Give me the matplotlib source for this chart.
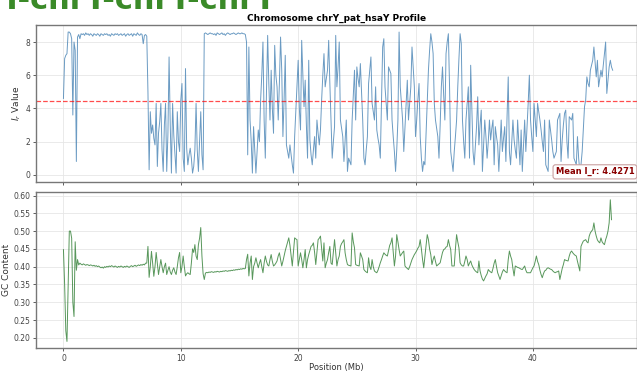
import numpy as np
import matplotlib.pyplot as plt

# valores I_r cada 0.1 Mb (leidos a ojo de la figura)
ir_values = [
    4.6, 7.0, 7.2, 7.3, 8.6, 8.6, 8.5, 8.2, 3.6, 8.0, 7.5, 0.8, 8.3,
    8.45, 8.2, 8.5, 8.45, 8.5, 8.4, 8.55, 8.45, 8.5, 8.4, 8.5, 8.45, 8.35, 8.5, 8.45, 8.4, 8.5, 8.45,
    8.35, 8.5, 8.45, 8.4, 8.5, 8.45, 8.5, 8.4, 8.45, 8.35, 8.5, 8.45, 8.4, 8.5, 8.45, 8.5, 8.4, 8.45,
    8.5, 8.4, 8.45, 8.5, 8.35, 8.45, 8.5, 8.4, 8.45, 8.5, 8.35, 8.5, 8.45, 8.4, 8.55, 8.45, 8.4, 8.5,
    8.45, 7.9, 8.4, 8.45, 8.35, 5.0, 0.3,
    3.8, 2.5, 3.0, 2.2, 1.8, 4.3, 0.5, 2.5, 3.2, 4.3, 1.5, 0.2, 3.0, 4.3, 0.2, 2.4, 7.1, 3.0, 0.1,
    4.3, 2.4, 1.2, 0.1, 3.8, 2.0, 1.4, 4.5, 5.5, 1.0, 0.2, 6.4, 1.6, 0.6, 1.2, 1.6, 1.0, 0.1, 0.5,
    1.5, 4.3, 1.5, 0.2, 2.0, 3.8, 1.2, 0.3,
    8.5, 8.55, 8.5, 8.45, 8.5, 8.55, 8.5, 8.5, 8.45, 8.5, 8.4, 8.55, 8.5, 8.45, 8.5, 8.55, 8.45, 8.5,
    8.4, 8.5, 8.55, 8.5, 8.45, 8.5, 8.5, 8.55, 8.5, 8.45, 8.5, 8.55, 8.5, 8.5, 8.55, 8.5, 8.5, 8.45,
    8.0, 1.2, 7.7, 3.3, 2.0, 0.1, 2.9, 1.5, 0.1, 1.4, 2.7, 2.0, 4.5, 6.0, 8.0, 3.3, 1.0, 5.0, 8.4,
    5.5, 3.3, 6.3, 4.0, 2.5, 7.8, 6.0, 5.3, 3.3, 5.5, 8.3, 6.3, 2.3, 4.5, 7.2, 1.8, 1.4, 1.0, 1.8,
    1.2, 0.6, 0.1, 2.3, 3.8, 5.3, 6.9, 4.0, 2.7, 8.1, 6.0, 4.1, 5.7, 3.0, 1.0, 6.9, 2.1, 1.2, 0.6,
    1.5, 2.3, 1.0, 3.3, 2.5, 1.8, 2.7, 4.5, 6.0, 7.3, 5.3, 5.8, 6.3, 8.1, 5.5, 3.3, 1.0, 2.0, 2.9,
    8.4, 5.3, 6.5, 8.0, 3.3, 2.8, 2.3, 0.8, 2.0, 3.3, 0.2, 1.0, 0.8, 0.6, 3.3, 4.8, 6.3, 3.3, 6.5,
    5.8, 5.3, 6.7, 5.0, 3.3, 1.0, 0.6, 1.5, 2.3, 5.5, 6.3, 7.1, 4.3, 3.8, 3.3, 5.3, 2.7, 2.2, 1.8,
    1.0, 4.5, 7.7, 8.2, 5.3, 4.3, 3.3, 6.5, 6.3, 6.1, 3.3, 2.3, 1.4, 0.2, 1.5, 3.3, 8.6, 5.3, 4.3,
    3.3, 1.4, 2.8, 4.3, 5.7, 3.3, 4.3, 5.3, 7.7, 6.5, 5.3, 2.3, 3.3, 4.5, 5.5, 2.3, 1.0, 0.2, 0.8,
    0.6, 2.5, 4.3, 6.3, 7.5, 8.5, 8.0, 7.3, 4.3, 3.3, 2.8, 2.3, 1.0, 3.0, 5.3, 6.5, 4.8, 3.3, 7.3,
    8.0, 8.5, 5.3, 1.4, 0.8, 0.2, 1.4, 2.3, 3.3, 5.3, 7.0, 8.5, 7.9, 3.3, 2.0, 1.0, 3.3, 4.3, 5.3,
    1.0, 6.6, 4.0, 1.4, 0.6, 1.8, 2.9, 4.7, 1.8, 3.0, 3.9, 0.2, 1.8, 3.3, 2.3, 1.0, 2.0, 3.3, 2.1,
    2.8, 3.3, 0.6, 2.9, 2.3, 1.8, 0.2, 1.8, 3.3, 1.4, 2.2, 2.9, 0.8, 3.5, 5.9, 1.4, 0.6, 2.0, 3.3,
    2.1, 1.5, 1.0, 3.3, 2.0, 0.6, 2.7, 0.2, 1.8, 3.3, 1.4, 2.8, 4.3, 6.0, 3.3, 2.3, 1.4, 4.3, 3.3,
    2.3, 4.3, 3.8, 3.3, 2.7, 2.0, 1.4, 3.3, 0.6, 0.4, 0.2, 3.3, 2.7, 2.1, 1.4, 1.0, 1.2, 1.4, 3.3,
    3.5, 3.7, 0.8, 2.1, 3.0, 3.7, 3.9, 2.0, 1.0, 3.5, 3.4, 3.3, 3.7, 1.0, 0.8, 0.6, 2.3, 1.0, 0.2,
    0.6, 1.4, 2.8, 4.1, 4.5, 5.9, 5.5, 5.3, 6.3, 6.6, 6.9, 7.7, 6.8, 5.9, 6.9, 5.3, 5.8, 6.3, 5.9,
    6.6, 7.3, 8.0, 4.9, 5.7, 6.5, 6.9, 6.5, 6.3,
]

# contenido GC cada 0.1 Mb
gc_values = [
    0.448, 0.35, 0.22, 0.19, 0.35, 0.50, 0.50, 0.48, 0.30, 0.26, 0.47, 0.39, 0.42, 0.405, 0.41,
    0.407, 0.405, 0.408, 0.406, 0.404, 0.406, 0.405, 0.403, 0.405, 0.404, 0.402, 0.404, 0.401, 0.403,
    0.400, 0.402, 0.399, 0.397, 0.399, 0.396, 0.400, 0.398, 0.401, 0.399, 0.402, 0.400, 0.403, 0.401,
    0.399, 0.402, 0.400, 0.398, 0.401, 0.399, 0.402, 0.400, 0.398, 0.401, 0.399, 0.402, 0.400, 0.398,
    0.401, 0.403, 0.400, 0.402, 0.404, 0.401, 0.403, 0.405, 0.403, 0.406, 0.404, 0.407, 0.405, 0.410,
    0.41, 0.457, 0.37, 0.40, 0.443, 0.41, 0.373, 0.40, 0.44, 0.41, 0.378, 0.40, 0.42, 0.40, 0.383,
    0.40, 0.41, 0.378, 0.39, 0.40, 0.385, 0.378, 0.39, 0.397, 0.385, 0.378, 0.40, 0.425, 0.44, 0.383,
    0.40, 0.43, 0.40, 0.374, 0.38, 0.383, 0.38, 0.378, 0.41, 0.45, 0.44, 0.462, 0.43, 0.42, 0.462,
    0.48, 0.51, 0.43, 0.38, 0.364,
    0.382, 0.384, 0.383, 0.385, 0.384, 0.386, 0.385, 0.384, 0.386, 0.385, 0.387, 0.386, 0.385, 0.387,
    0.386, 0.388, 0.387, 0.389, 0.388, 0.387, 0.389, 0.388, 0.390, 0.389, 0.391, 0.390, 0.392, 0.391,
    0.393, 0.392, 0.394, 0.393, 0.395, 0.394, 0.395,
    0.42, 0.435, 0.374, 0.41, 0.43, 0.364, 0.40, 0.41, 0.425, 0.41, 0.397, 0.41, 0.42, 0.40, 0.383,
    0.41, 0.43, 0.415, 0.405, 0.402, 0.42, 0.434, 0.415, 0.402, 0.405, 0.41, 0.416, 0.43, 0.439,
    0.42, 0.402, 0.415, 0.43, 0.445, 0.457, 0.47, 0.481, 0.46, 0.43, 0.402, 0.44, 0.481, 0.478,
    0.476, 0.402, 0.42, 0.439, 0.42, 0.397, 0.42, 0.448, 0.397, 0.42, 0.434, 0.445, 0.457, 0.46,
    0.467, 0.44, 0.406, 0.44, 0.476, 0.48, 0.486, 0.45, 0.416, 0.467, 0.397, 0.41, 0.42, 0.44,
    0.457, 0.41, 0.406, 0.44, 0.476, 0.44, 0.402, 0.42, 0.43, 0.457, 0.465, 0.47, 0.476, 0.439,
    0.42, 0.406, 0.404, 0.403, 0.402, 0.495, 0.47, 0.453, 0.406, 0.404, 0.403, 0.402, 0.439, 0.43,
    0.42, 0.392, 0.388, 0.385, 0.383, 0.425, 0.40, 0.392, 0.42, 0.40, 0.388, 0.385, 0.383, 0.39,
    0.40, 0.411, 0.42, 0.43, 0.439, 0.435, 0.432, 0.43, 0.445, 0.46, 0.467, 0.481, 0.44, 0.402,
    0.43, 0.49, 0.47, 0.448, 0.43, 0.435, 0.44, 0.444, 0.402, 0.398, 0.395, 0.392, 0.40, 0.41,
    0.42, 0.427, 0.434, 0.439, 0.445, 0.452, 0.457, 0.476, 0.45, 0.42, 0.397, 0.43, 0.46, 0.49,
    0.476, 0.45, 0.434, 0.406, 0.42, 0.43, 0.415, 0.402, 0.405, 0.408, 0.411, 0.425, 0.44, 0.448,
    0.45, 0.455, 0.457, 0.476, 0.46, 0.448, 0.402, 0.402, 0.402, 0.45, 0.49, 0.47, 0.453, 0.411,
    0.405, 0.402, 0.402, 0.415, 0.43, 0.42, 0.402, 0.41, 0.416, 0.405, 0.398, 0.392, 0.388, 0.385,
    0.383, 0.416, 0.388, 0.375, 0.365, 0.36, 0.367, 0.374, 0.38, 0.392, 0.388, 0.385, 0.383, 0.395,
    0.41, 0.42, 0.40, 0.383, 0.374, 0.364, 0.375, 0.385, 0.392, 0.388, 0.385, 0.383, 0.42, 0.444,
    0.43, 0.42, 0.395, 0.374, 0.402, 0.40, 0.398, 0.397, 0.395, 0.393, 0.392, 0.397, 0.402, 0.39,
    0.383, 0.383, 0.383, 0.383, 0.39, 0.397, 0.402, 0.415, 0.43, 0.415, 0.406, 0.39, 0.378, 0.369,
    0.38, 0.388, 0.39, 0.395, 0.397, 0.395, 0.393, 0.392, 0.388, 0.385, 0.383, 0.385, 0.386, 0.388,
    0.364, 0.38, 0.395, 0.406, 0.42, 0.418, 0.417, 0.416, 0.43, 0.44, 0.444, 0.439, 0.435, 0.432,
    0.43, 0.415, 0.402, 0.388, 0.457, 0.465, 0.472, 0.474, 0.476, 0.47, 0.467, 0.486, 0.495, 0.50,
    0.504, 0.523, 0.50, 0.486, 0.475, 0.47, 0.467, 0.481, 0.47, 0.465, 0.462, 0.476, 0.486, 0.50,
    0.523, 0.588, 0.532,
]

bin_mb = 0.1
ir_pos = np.arange(len(ir_values)) * bin_mb
gc_pos = np.arange(len(gc_values)) * bin_mb
mean_ir = 4.4271

fig = plt.figure(figsize=(6.37, 3.72), dpi=100)
ax1 = fig.add_axes([0.0565, 0.511, 0.944, 0.422])
ax2 = fig.add_axes([0.0565, 0.064, 0.944, 0.42], sharex=ax1)

# texto verde grande cortado arriba (solo se ve la parte de abajo)
fig.text(0.0, 1 - 9 / 372, "Y-chrY-chrY-chrY", color="#3a8a28", fontsize=22,
         fontweight="bold", ha="left", va="baseline")

ax1.plot(ir_pos, ir_values, color="steelblue", lw=0.7, alpha=0.8)
ax1.axhline(mean_ir, color="red", ls="--", lw=0.9, alpha=0.7)
ax1.text(0.995, 0.035, f"Mean I_r: {mean_ir:.4f}", transform=ax1.transAxes,
         ha="right", va="bottom", fontsize=6, fontweight="bold", color="darkred",
         bbox=dict(boxstyle="round,pad=0.3", fc="white", ec="#c9a0a0", lw=0.8))
ax1.set_ylabel(r"$I_r$ Value", fontsize=6.5, color="#333", labelpad=2)
ax1.set_title("Chromosome chrY_pat_hsaY Profile", fontsize=6.5, fontweight="bold", pad=3)
ax1.tick_params(labelbottom=False)

ax2.plot(gc_pos, gc_values, color="#2e7d32", lw=0.7, alpha=0.8)
ax2.set_ylabel("GC Content", fontsize=6.5, color="#333", labelpad=2)
ax2.set_xlabel("Position (Mb)", fontsize=6, color="#333", labelpad=0)
ax2.set_yticks([0.20, 0.25, 0.30, 0.35, 0.40, 0.45, 0.50, 0.55, 0.60])
ax2.set_ylim(0.171, 0.61)
ax1.set_ylim(-0.43, 9.03)
ax1.set_yticks([0, 2, 4, 6, 8])
ax1.set_xlim(-2.34, 48.9)
ax2.set_xticks([0, 10, 20, 30, 40])

for ax in (ax1, ax2):
    ax.grid(True, color="#e6e6e6", lw=0.6)
    ax.set_axisbelow(True)
    ax.tick_params(labelsize=5.5, colors="#444", length=2.5, width=0.6, pad=1.5)
    for s in ax.spines.values():
        s.set_color("#777")
        s.set_linewidth(1.0)

plt.savefig("out.png", dpi=100)
